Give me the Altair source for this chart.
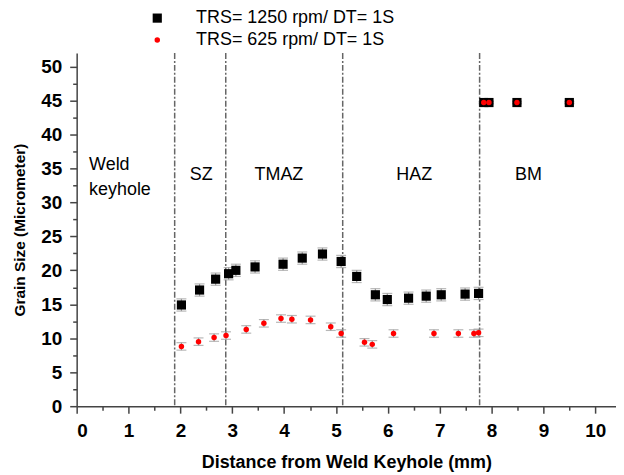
import altair as alt
import pandas as pd

# ---- data ----
s1_name = "TRS= 1250 rpm/ DT= 1S"
s2_name = "TRS= 625 rpm/ DT= 1S"

s1_x = [2.02, 2.37, 2.68, 2.93, 3.07, 3.44, 3.98, 4.35, 4.74, 5.10, 5.40, 5.76, 5.99, 6.40, 6.74, 7.03, 7.49, 7.75, 7.85, 7.95, 8.49, 9.50]
s1_y = [14.9, 17.1, 18.7, 19.5, 20.0, 20.5, 20.9, 21.8, 22.4, 21.3, 19.1, 16.4, 15.7, 15.9, 16.2, 16.4, 16.5, 16.6, 44.7, 44.7, 44.7, 44.7]
s1_err = [0.9, 0.9, 0.9, 0.9, 0.9, 0.9, 0.9, 0.9, 0.9, 0.9, 0.9, 0.9, 0.9, 0.9, 0.9, 0.9, 0.9, 0.9, 0.2, 0.2, 0.2, 0.2]

s2_x = [2.02, 2.35, 2.65, 2.88, 3.27, 3.61, 3.94, 4.15, 4.51, 4.90, 5.10, 5.55, 5.70, 6.11, 6.89, 7.36, 7.66, 7.75, 7.85, 7.95, 8.49, 9.50]
s2_y = [8.8, 9.5, 10.1, 10.4, 11.3, 12.2, 12.9, 12.8, 12.7, 11.7, 10.7, 9.4, 9.1, 10.7, 10.7, 10.7, 10.7, 10.8, 44.7, 44.7, 44.7, 44.7]
s2_err = [0.55, 0.55, 0.55, 0.55, 0.55, 0.55, 0.55, 0.55, 0.55, 0.55, 0.55, 0.55, 0.55, 0.55, 0.55, 0.55, 0.55, 0.55, 0.1, 0.1, 0.1, 0.1]

zone_bounds = [1.89, 2.875, 5.13, 7.77]

left_labels = ["Weld", "keyhole"]
left_label_x = [0.24, 0.24]
left_label_y = [35.5, 31.8]

zone_labels = ["SZ", "TMAZ", "HAZ", "BM"]
zone_label_x = [2.4, 3.9, 6.51, 8.71]
zone_label_y = [34.0, 34.0, 34.0, 34.0]

x_ticks = [0, 0.5, 1, 1.5, 2, 2.5, 3, 3.5, 4, 4.5, 5, 5.5, 6, 6.5, 7, 7.5, 8, 8.5, 9, 9.5, 10]
y_ticks = [0, 2.5, 5, 7.5, 10, 12.5, 15, 17.5, 20, 22.5, 25, 27.5, 30, 32.5, 35, 37.5, 40, 42.5, 45, 47.5, 50]

# ---- tables ----
pts = pd.concat([
    pd.DataFrame({"series": s1_name, "x": s1_x, "y": s1_y, "err": s1_err, "order": 0}),
    pd.DataFrame({"series": s2_name, "x": s2_x, "y": s2_y, "err": s2_err, "order": 1}),
], ignore_index=True)
pts["lo"] = pts["y"] - pts["err"]
pts["hi"] = pts["y"] + pts["err"]

bounds = pd.DataFrame({"x": zone_bounds})
lab_left = pd.DataFrame({"text": left_labels, "x": left_label_x, "y": left_label_y})
lab_zone = pd.DataFrame({"text": zone_labels, "x": zone_label_x, "y": zone_label_y})

FONT = "Liberation Sans"
XDOM = [0, 10.4]
YDOM = [0, 52]

xscale = alt.Scale(domain=XDOM, nice=False, zero=False)
yscale = alt.Scale(domain=YDOM, nice=False, zero=False)

common = dict(labelFontSize=19, labelFontWeight="bold", labelFont=FONT, titleFont=FONT,
              titleFontWeight="bold", grid=False,
              domainColor="#444", tickColor="#444", domainWidth=1.5, tickWidth=1.5,
              labelColor="black", titleColor="black")

x_axis = alt.Axis(values=x_ticks, title="Distance from Weld Keyhole (mm)", titlePadding=14,
                  titleFontSize=18, labelPadding=8,
                  labelExpr="datum.value % 1 === 0 ? format(datum.value, 'd') : ''",
                  tickSize={"condition": {"test": "datum.value % 1 !== 0", "value": 4}, "value": 7},
                  **common)
y_axis = alt.Axis(values=y_ticks, title="Grain  Size (Micrometer)", titlePadding=13,
                  titleFontSize=15.5, labelPadding=8,
                  labelExpr="datum.value % 5 === 0 ? format(datum.value, 'd') : ''",
                  tickSize={"condition": {"test": "datum.value % 5 !== 0", "value": 4}, "value": 7},
                  **common)

base = alt.Chart(pts)

rules = alt.Chart(bounds).mark_rule(color="#666", strokeWidth=1.5, strokeDash=[6, 2, 2, 2]).encode(
    x=alt.X("x:Q", scale=xscale, axis=x_axis),
    y=alt.value(0),
    y2=alt.value(355),
)

errbars = base.mark_errorbar(ticks=alt.MarkConfig(size=10), color="#999", thickness=1.2).encode(
    x=alt.X("x:Q", scale=xscale, axis=x_axis),
    y=alt.Y("lo:Q", scale=yscale, axis=y_axis),
    y2="hi:Q",
)

points = base.mark_point(filled=True, opacity=1).encode(
    x=alt.X("x:Q", scale=xscale, axis=x_axis),
    y=alt.Y("y:Q", scale=yscale, axis=y_axis),
    color=alt.Color("series:N", scale=alt.Scale(domain=[s1_name, s2_name], range=["black", "#ff0000"]),
                    legend=alt.Legend(title=None, orient="none", legendX=72, legendY=-44,
                                      labelFont=FONT, labelFontSize=18, labelColor="black",
                                      labelLimit=0, labelOffset=30, rowPadding=4, padding=0,
                                      symbolStrokeWidth=0)),
    shape=alt.Shape("series:N", scale=alt.Scale(domain=[s1_name, s2_name], range=["square", "circle"])),
    size=alt.Size("series:N", scale=alt.Scale(domain=[s1_name, s2_name], range=[85, 30])),
    order=alt.Order("order:Q"),
)

texts_left = alt.Chart(lab_left).mark_text(font=FONT, fontSize=18, color="black", baseline="middle", align="left").encode(
    x=alt.X("x:Q", scale=xscale, axis=x_axis),
    y=alt.Y("y:Q", scale=yscale, axis=y_axis),
    text="text:N",
)
texts_zone = alt.Chart(lab_zone).mark_text(font=FONT, fontSize=18, color="black", baseline="middle", align="center").encode(
    x=alt.X("x:Q", scale=xscale, axis=x_axis),
    y=alt.Y("y:Q", scale=yscale, axis=y_axis),
    text="text:N",
)

chart = alt.layer(rules, errbars, points, texts_left, texts_zone).properties(
    width=542,
    height=355,
    autosize=alt.AutoSizeParams(type="none"),
    padding={"left": 69, "top": 44, "right": 0, "bottom": 70},
).configure_view(stroke=None).configure_axis(labelOverlap=False)

chart.save("out.html", embed_options={"renderer": "svg", "actions": False})
